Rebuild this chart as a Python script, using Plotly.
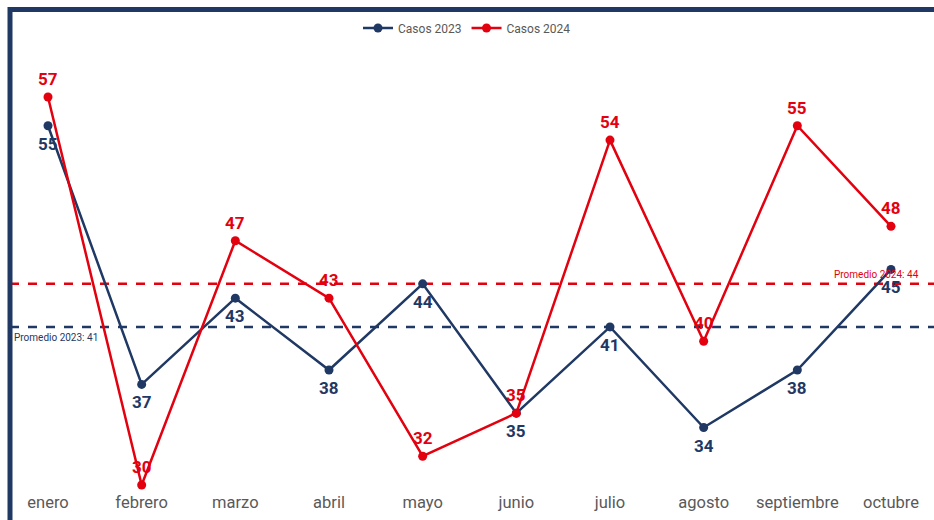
import plotly.graph_objects as go

meses = ["enero", "febrero", "marzo", "abril", "mayo", "junio", "julio", "agosto", "septiembre", "octubre"]
casos_2023 = [55, 37, 43, 38, 44, 35, 41, 34, 38, 45]
casos_2024 = [57, 30, 47, 43, 32, 35, 54, 40, 55, 48]
promedio_2023 = 41
promedio_2024 = 44

NAVY = "#1F3864"
RED = "#E3000F"
GRAY = "#595959"
W, H = 934, 520
MB = 30
PH = H - MB
FONT = "Roboto"

fig = go.Figure()
fig.add_trace(go.Scatter(x=meses, y=casos_2023, mode="lines+markers", name="Casos 2023",
                         line=dict(color=NAVY, width=2.5), marker=dict(size=9, color=NAVY)))
fig.add_trace(go.Scatter(x=meses, y=casos_2024, mode="lines+markers", name="Casos 2024",
                         line=dict(color=RED, width=2.5), marker=dict(size=9, color=RED)))

# data labels
for m, v in zip(meses, casos_2023):
    fig.add_annotation(x=m, y=v, text=str(v), showarrow=False, yshift=-18, yanchor="middle",
                       font=dict(color=NAVY, size=17, family=FONT, weight="bold"))
for m, v in zip(meses, casos_2024):
    fig.add_annotation(x=m, y=v, text=str(v), showarrow=False, yshift=18, yanchor="middle",
                       font=dict(color=RED, size=17, family=FONT, weight="bold"))

# average lines
fig.add_shape(type="line", xref="paper", yref="y", x0=10 / W, x1=1, y0=promedio_2024, y1=promedio_2024,
              line=dict(color=RED, width=2.5, dash="dash"), layer="below")
fig.add_shape(type="line", xref="paper", yref="y", x0=10 / W, x1=1, y0=promedio_2023, y1=promedio_2023,
              line=dict(color=NAVY, width=2.5, dash="dash"), layer="below")
fig.add_annotation(xref="paper", yref="y", x=12 / W, y=promedio_2023, xanchor="left", yanchor="top",
                   yshift=-3, text=f"Promedio 2023: {promedio_2023}", showarrow=False,
                   font=dict(color=NAVY, size=10, family=FONT))
fig.add_annotation(xref="paper", yref="y", x=921 / W, y=promedio_2024, xanchor="right", yanchor="bottom",
                   yshift=2, text=f"Promedio 2024: {promedio_2024}", showarrow=False,
                   font=dict(color=RED, size=10, family=FONT))

# frame borders (left and top)
fig.add_shape(type="line", xref="paper", yref="paper", x0=10 / W, x1=10 / W, y0=-MB / PH, y1=1 - 7 / PH,
              line=dict(color=NAVY, width=5))
fig.add_shape(type="line", xref="paper", yref="paper", x0=8 / W, x1=1, y0=1 - 9.5 / PH, y1=1 - 9.5 / PH,
              line=dict(color=NAVY, width=5))

sp = (891 - 48) / 9
fig.update_xaxes(range=[-48 / sp, (W - 48) / sp], showgrid=False, zeroline=False, showline=False,
                 ticks="", tickfont=dict(color=GRAY, size=16.5, family=FONT))
ppu = (485 - 97) / 27
fig.update_yaxes(range=[57 - (PH - 97) / ppu, 57 + 97 / ppu], visible=False, showgrid=False, zeroline=False)

fig.update_layout(
    width=W, height=H,
    margin=dict(l=0, r=0, t=0, b=MB),
    plot_bgcolor="white", paper_bgcolor="white",
    font=dict(family=FONT, color=GRAY),
    legend=dict(orientation="h", x=0.5, xanchor="center", y=1 - 28 / PH, yanchor="middle",
                font=dict(size=12, color=GRAY, family=FONT), itemwidth=30, tracegroupgap=0,
                bgcolor="rgba(0,0,0,0)"),
    hovermode=False,
)

fig.write_html("out.html", config={"displayModeBar": False},
               post_script="document.body.style.margin='0';document.body.style.overflow='hidden';")
